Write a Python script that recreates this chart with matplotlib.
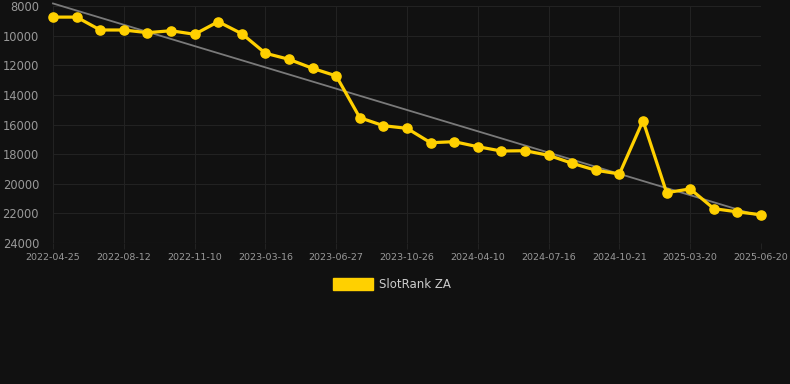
import matplotlib
matplotlib.use("Agg")
import matplotlib.pyplot as plt
import numpy as np

tick_labels = ["2022-04-25", "2022-08-12", "2022-11-10", "2023-03-16", "2023-06-27",
               "2023-10-26", "2024-04-10", "2024-07-16", "2024-10-21", "2025-03-20",
               "2025-06-20"]
ranks = [8750, 8750, 9620, 9620, 9800, 9670, 9910, 9060, 9870, 11190,
         11600, 12210, 12720, 15540, 16080, 16260, 17230, 17160, 17500, 17790,
         17770, 18080, 18620, 19090, 19340, 15740, 20600, 20350, 21680, 21900,
         22090]
series_name = "SlotRank ZA"

bg = "#111111"
yellow = "#FFD000"
W, H = 790, 384
fig = plt.figure(figsize=(W / 100, H / 100), dpi=100, facecolor=bg)
left, right, top, bottom = 53, 761, 6, 243
ax = fig.add_axes([left / W, 1 - bottom / H, (right - left) / W, (bottom - top) / H])
ax.set_facecolor(bg)

x = np.arange(len(ranks))
# trend line (linear regression)
coef = np.polyfit(x, ranks, 1)
ax.plot(x, np.polyval(coef, x), color="#7a7a7a", lw=1.3, zorder=2, clip_on=False)
ax.plot(x, ranks, color=yellow, lw=2.3, marker="o", markersize=6.6,
        markerfacecolor=yellow, markeredgecolor=yellow, zorder=3, clip_on=False)

ax.set_xlim(0, len(ranks) - 1)
ax.set_ylim(24000, 8000)
ax.set_yticks(np.arange(8000, 24001, 2000))
ax.set_yticklabels([str(v) for v in range(8000, 24001, 2000)])
ax.set_xticks(x[::3])
ax.set_xticklabels(tick_labels)

ax.grid(True, color="#222222", lw=0.8)
ax.set_axisbelow(True)
for s in ax.spines.values():
    s.set_visible(False)
ax.tick_params(axis="y", colors="#999999", labelsize=8.3, length=0, pad=10)
ax.tick_params(axis="x", colors="#999999", labelsize=6.8, length=4, width=0.8,
               pad=3, color="#222222")
ax.axhline(24000, color="#333333", lw=0.8, zorder=1)

# legend
fig.patches.append(plt.Rectangle((333 / W, 1 - 290 / H), 40 / W, 12 / H,
                                 transform=fig.transFigure, color=yellow))
fig.text(379 / W, 1 - 284.5 / H, series_name, color="#cccccc", fontsize=8.5,
         va="center", ha="left")

fig.savefig("out.png", dpi=100, facecolor=bg)
